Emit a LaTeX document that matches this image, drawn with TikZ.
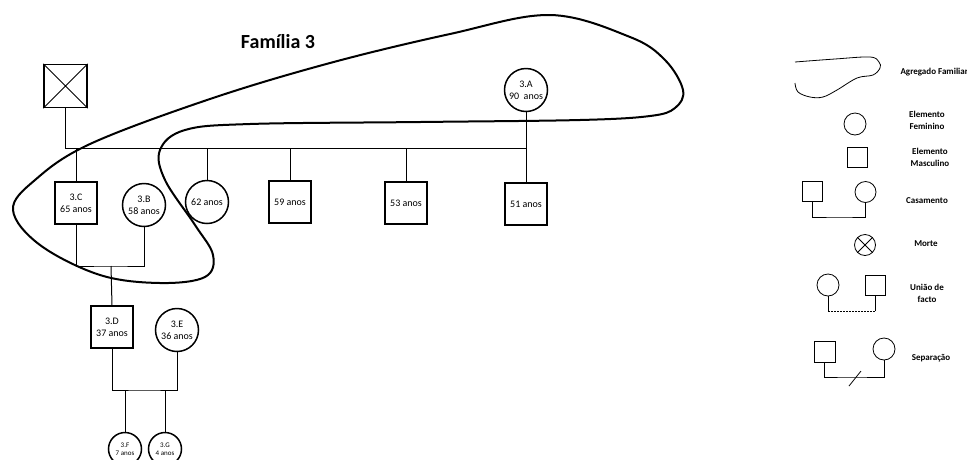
\documentclass[tikz,border=0pt]{standalone}
\usepackage{fontspec}
\setmainfont{Carlito}
\begin{document}
\begin{tikzpicture}[x=1pt,y=-1pt,
fem/.style = {% elemento feminino
    circle, draw, line width=1.5pt, minimum size=43pt, inner sep=0pt,
    align=center, font=\fontsize{10}{12}\selectfont,
             },
masc/.style = {% elemento masculino
    rectangle, draw, line width=1.8pt, minimum size=42pt, inner sep=0pt,
    align=center, font=\fontsize{10}{12}\selectfont,
              },
lig/.style = {line width=1pt},% ligacoes
lt/.style = {% texto da legenda
    font=\bfseries\fontsize{9}{12}\selectfont, align=center,
            },
lfem/.style = {circle, draw, line width=0.8pt, minimum size=22pt, inner sep=0pt},
lmasc/.style = {rectangle, draw, line width=0.8pt, minimum size=20pt, inner sep=0pt},
                        ]
\useasboundingbox (0,0) rectangle (967,459);

 \node[font=\bfseries\fontsize{20}{22}\selectfont] (tit) at (278,42) {Família 3};

 % agregado familiar
 \draw[line width=2pt] plot[smooth cycle, tension=0.6] coordinates {
   (90,144) (210,99) (330,63) (450,34) (550,15) (630,37) (665,60)
   (683,90) (675,108) (650,116) (580,120) (420,122) (250,124) (185,130)
   (160,150) (165,180) (195,225) (213,255) (205,277) (160,283)
   (100,275) (40,245) (13,210) (35,180)};

 % familia
 \node[masc, line width=1.3pt, minimum size=43pt] (dead) at (65.5,86) {};
 \draw[lig] (dead.north west) -- (dead.south east)
            (dead.north east) -- (dead.south west);
 \node[fem] (A) at (526,90) {3.A\\90~ anos};
 \node[masc] (C) at (76,203) {3.C\\65 anos};
 \node[fem] (B) at (144,205) {3.B\\58 anos};
 \node[fem] (n62) at (207,202) {62 anos};
 \node[masc] (n59) at (290,202) {59 anos};
 \node[masc] (n53) at (406,203) {53 anos};
 \node[masc] (n51) at (526,204) {51 anos};
 \node[masc] (D) at (112,327) {3.D\\37 anos};
 \node[fem] (E) at (177,330) {3.E\\36 anos};
 \node[fem, minimum size=33pt, font=\fontsize{7}{8.5}\selectfont] (F) at (125,449) {3.F\\7 anos};
 \node[fem, minimum size=33pt, font=\fontsize{7}{8.5}\selectfont] (G) at (165,449) {3.G\\4 anos};

 \coordinate (irm) at (526,148);
 \coordinate (mBC) at (111,266);
 \coordinate (mDE) at (144,390);

 \draw[lig] (dead.south) |- (irm);
 \draw[lig] (A.south) -- (n51.north);
 \draw[lig] (C.north) -- (C.north |- irm);
 \draw[lig] (n62.north) -- (n62.north |- irm);
 \draw[lig] (n59.north) -- (n59.north |- irm);
 \draw[lig] (n53.north) -- (n53.north |- irm);
 \draw[lig] (C.south) |- (mBC) -| (B.south);
 \draw[lig] (mBC) -- (D.north);
 \draw[lig] (D.south) |- (mDE) -| (E.south);
 \draw[lig] (F.north) -- (F.north |- mDE);
 \draw[lig] (G.north) -- (G.north |- mDE);

 % legenda
 \draw[line width=0.8pt] plot[smooth, tension=0.6] coordinates {
   (795,62) (835,59) (870,57) (879,62) (880,68) (873,75) (857,78)
   (837,90) (823,97) (810,97) (798,92) (795,83)};
 \node[lt, anchor=west] (tag) at (897,72) {Agregado Familiar};

 \node[lfem] (lf) at (855,124) {};
 \node[lt] (tlf) at (927,120) {Elemento\\Feminino};

 \node[lmasc] (lm) at (857,157) {};
 \node[lt] (tlm) at (930,157) {Elemento\\Masculino};

 \node[lmasc] (cs) at (812,191) {};
 \node[lfem, minimum size=21pt] (cc) at (865.5,192) {};
 \coordinate (cm) at (840,217);
 \draw[line width=0.8pt] (cs.south) |- (cm) -| (cc.south);
 \node[lt] (tcs) at (927,201) {Casamento};

 \node[lfem, minimum size=21pt] (mo) at (865,245) {};
 \draw[line width=0.8pt] (mo.north west) -- (mo.south east)
                         (mo.north east) -- (mo.south west);
 \node[lt] (tmo) at (926,244) {Morte};

 \node[lfem] (uf) at (828,285) {};
 \node[lmasc] (um) at (875,285) {};
 \coordinate (ua) at (828,311);
 \coordinate (ub) at (875,311);
 \draw[line width=0.8pt] (uf.south) -- (ua);
 \draw[line width=0.8pt, dash pattern=on 2pt off 1pt] (ua) -- (ub);
 \draw[line width=0.8pt] (ub) -- (um.south);
 \node[lt] (tun) at (927,293) {União de\\facto};

 \node[lmasc, minimum size=21pt] (ss) at (824.5,352) {};
 \node[lfem] (sc) at (884,349) {};
 \coordinate (sm) at (850,377);
 \draw[line width=0.8pt] (ss.south) |- (sm) -| (sc.south);
 \draw[line width=0.8pt] (849,386) -- (861,371);
 \node[lt] (tse) at (931,358) {Separação};

\end{tikzpicture}
\end{document}
